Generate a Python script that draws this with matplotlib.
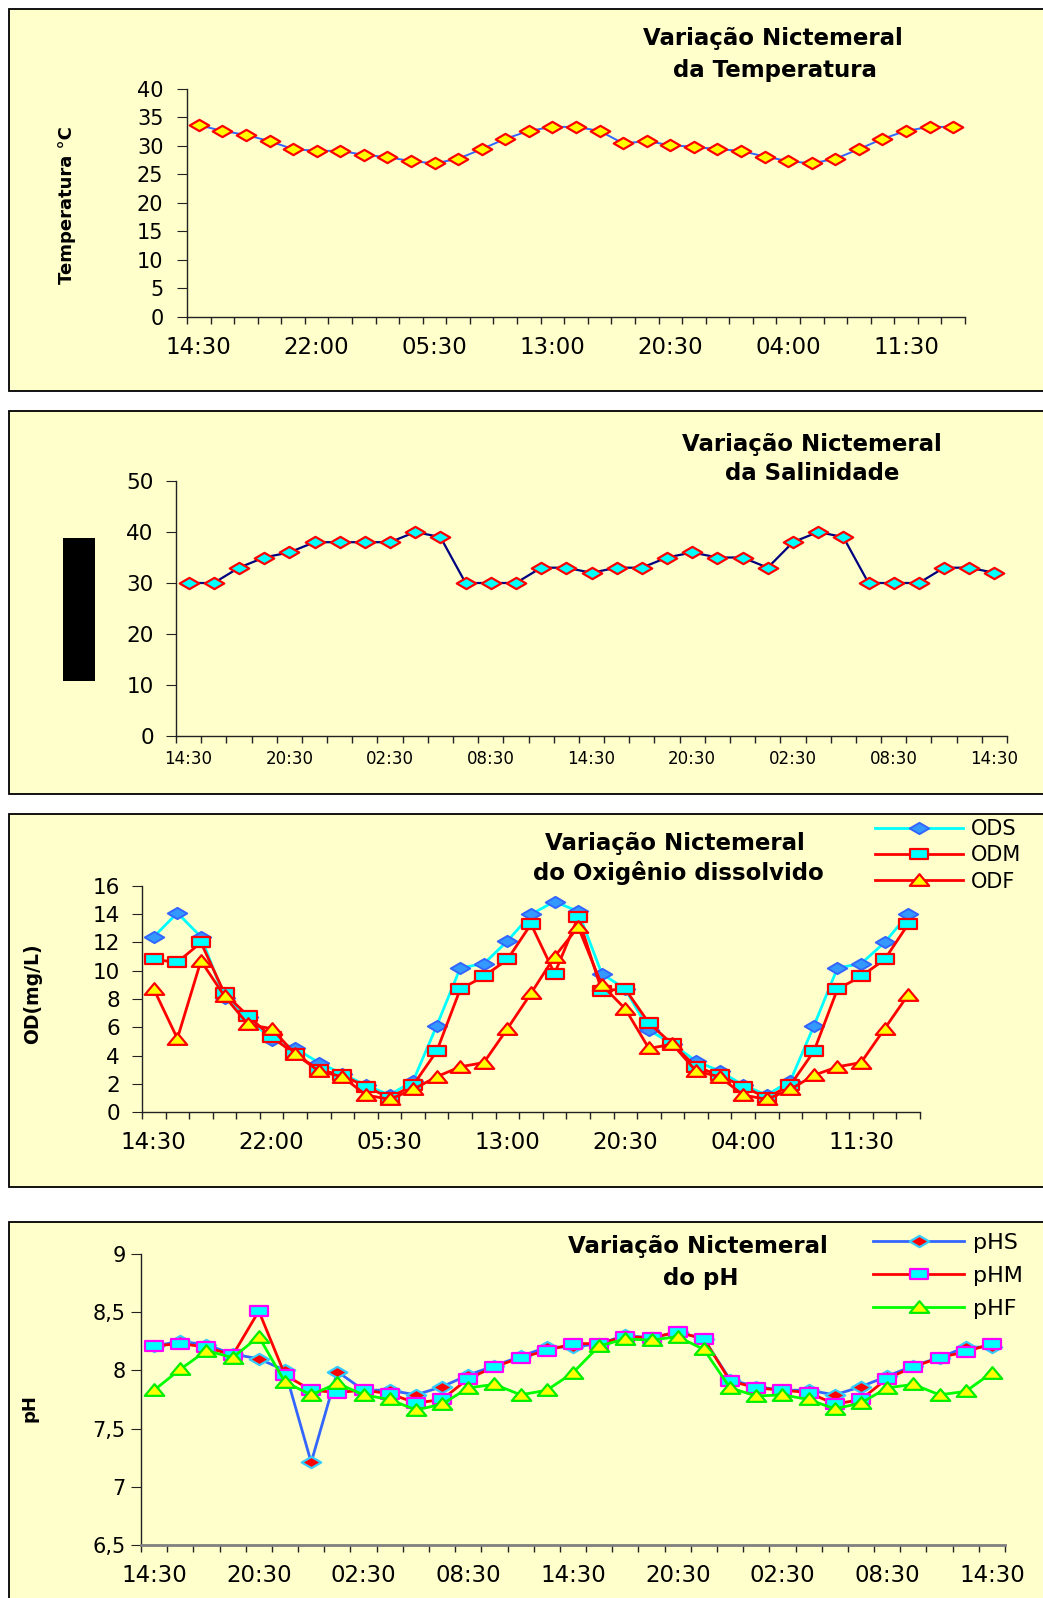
import matplotlib
matplotlib.use("Agg")
import matplotlib.pyplot as plt
from matplotlib.patches import Rectangle
from matplotlib.path import Path
import numpy as np

plt.rcParams['font.family'] = ['DejaVu Sans']

# ---------------- data ----------------
times = ["14:30", "16:00", "17:30", "19:00", "20:30", "22:00", "23:30", "01:00",
         "02:30", "04:00", "05:30", "07:00", "08:30", "10:00", "11:30", "13:00",
         "14:30", "16:00", "17:30", "19:00", "20:30", "22:00", "23:30", "01:00",
         "02:30", "04:00", "05:30", "07:00", "08:30", "10:00", "11:30", "13:00",
         "14:30"]

temperatura = [33.6, 32.6, 31.9, 30.8, 29.4, 29.1, 29.1, 28.4, 28.0, 27.3, 26.9,
               27.7, 29.4, 31.2, 32.6, 33.3, 33.3, 32.6, 30.4, 30.8, 30.1, 29.8,
               29.4, 29.1, 28.1, 27.3, 26.9, 27.7, 29.4, 31.2, 32.6, 33.3, 33.3]

salinidade = [30, 30, 33, 35, 36, 38, 38, 38, 38, 40, 39, 30, 30, 30, 33, 33, 32,
              33, 33, 35, 36, 35, 35, 33, 38, 40, 39, 30, 30, 30, 33, 33, 32]

ods = [12.4, 14.1, 12.4, 8.1, 6.7, 5.1, 4.5, 3.5, 2.7, 1.9, 1.2, 2.2, 6.1, 10.2,
       10.5, 12.1, 14.0, 14.9, 14.2, 9.8, 8.7, 5.8, 4.8, 3.6, 2.9, 1.9, 1.2, 2.2,
       6.1, 10.2, 10.5, 12.0, 14.0]
odm = [10.8, 10.6, 12.0, 8.4, 6.8, 5.3, 4.1, 3.0, 2.6, 1.8, 1.0, 1.9, 4.3, 8.7,
       9.6, 10.8, 13.3, 9.8, 13.8, 8.6, 8.7, 6.3, 4.8, 3.2, 2.6, 1.8, 1.0, 1.9,
       4.3, 8.7, 9.6, 10.8, 13.3]
odf = [8.7, 5.2, 10.7, 8.2, 6.2, 5.9, 4.1, 2.9, 2.5, 1.2, 0.9, 1.6, 2.5, 3.2,
       3.5, 5.9, 8.4, 11.0, 13.1, 9.0, 7.3, 4.5, 4.8, 2.9, 2.5, 1.2, 0.9, 1.6,
       2.6, 3.2, 3.5, 5.9, 8.3]

phs = [8.21, 8.25, 8.22, 8.14, 8.10, 8.00, 7.21, 7.99, 7.83, 7.83, 7.79, 7.86,
       7.96, 8.04, 8.12, 8.20, 8.20, 8.23, 8.30, 8.28, 8.33, 8.27, 7.92, 7.86,
       7.83, 7.83, 7.79, 7.86, 7.95, 8.04, 8.11, 8.20, 8.20]
phm = [8.21, 8.23, 8.20, 8.13, 8.51, 7.96, 7.83, 7.81, 7.83, 7.80, 7.72, 7.75,
       7.93, 8.03, 8.11, 8.17, 8.23, 8.23, 8.29, 8.28, 8.33, 8.27, 7.91, 7.85,
       7.83, 7.81, 7.71, 7.75, 7.93, 8.03, 8.11, 8.16, 8.23]
phf = [7.83, 8.01, 8.17, 8.11, 8.29, 7.90, 7.79, 7.89, 7.79, 7.75, 7.66, 7.71,
       7.85, 7.88, 7.79, 7.83, 7.98, 8.21, 8.27, 8.26, 8.29, 8.18, 7.85, 7.78,
       7.79, 7.75, 7.67, 7.72, 7.85, 7.88, 7.79, 7.82, 7.98]

ph_ticks = [6.5, 7, 7.5, 8, 8.5, 9]
ph_ticklabels = ["6,5", "7", "7,5", "8", "8,5", "9"]

# ---------------- figure ----------------
W, H = 1043, 1598
fig = plt.figure(figsize=(W / 100, H / 100), dpi=100)
fig.patch.set_facecolor('white')
BG = '#FFFFCC'


def fx(px):
    return px / W


def fy(py):
    return 1 - py / H


def frame(top, bottom):
    r = Rectangle((fx(9), fy(bottom)), fx(1100) - fx(9), fy(top) - fy(bottom),
                  transform=fig.transFigure, facecolor=BG, edgecolor='black',
                  lw=1.3, zorder=-5)
    fig.add_artist(r)


def make_ax(x0, x1, y0, y1):
    ax = fig.add_axes([fx(x0), fy(y1), fx(x1) - fx(x0), fy(y0) - fy(y1)])
    ax.patch.set_alpha(0)
    for s in ['top', 'right']:
        ax.spines[s].set_visible(False)
    for s in ['left', 'bottom']:
        ax.spines[s].set_color('#222222')
        ax.spines[s].set_linewidth(1.0)
    return ax


def cat_axis(ax, step, fs, pad):
    n = len(times)
    ax.set_xlim(-0.5, n - 0.5)
    idx = list(range(0, n, step))
    ax.set_xticks(idx)
    ax.set_xticklabels([times[i] for i in idx], fontsize=fs)
    ax.set_xticks(np.arange(-0.5, n, 1.0), minor=True)
    ax.tick_params(axis='x', which='major', length=0, pad=pad)
    ax.tick_params(axis='x', which='minor', length=5, width=1, direction='out',
                   color='#222222')


# wide marker shapes (reference is horizontally stretched)
DIAM = Path([(0, 0.58), (1, 0), (0, -0.58), (-1, 0), (0, 0.58)],
            [Path.MOVETO, Path.LINETO, Path.LINETO, Path.LINETO, Path.CLOSEPOLY])
SQR = Path([(-1, -0.6), (1, -0.6), (1, 0.6), (-1, 0.6), (-1, -0.6)],
           [Path.MOVETO, Path.LINETO, Path.LINETO, Path.LINETO, Path.CLOSEPOLY])
TRI = Path([(-1, -0.55), (1, -0.55), (0, 0.65), (-1, -0.55)],
           [Path.MOVETO, Path.LINETO, Path.LINETO, Path.CLOSEPOLY])

x = np.arange(len(times))

title_kw = dict(fontsize=16.5, fontweight='bold', ha='center', va='center')
XT = 16.5   # x tick label size
YT = 15     # y tick label size

# ---------------- panel 1: temperatura ----------------
frame(9, 391)
ax1 = make_ax(187, 965, 88.7, 316.7)
ax1.plot(x, temperatura, color='#3366FF', lw=1.4, marker=DIAM, ms=14,
         mfc='#FFFF00', mec='#FF0000', mew=1.6, clip_on=False)
ax1.set_ylim(0, 40)
ax1.set_yticks(range(0, 41, 5))
ax1.tick_params(axis='y', length=7, pad=10, labelsize=YT, color='#222222')
cat_axis(ax1, 5, XT, 14)
fig.text(fx(773), fy(39), "Variação Nictemeral", **title_kw)
fig.text(fx(775), fy(70), "da Temperatura", **title_kw)
fig.text(fx(67), fy(205), "Temperatura °C", rotation=90, fontsize=13,
         fontweight='bold', ha='center', va='center')

# ---------------- panel 2: salinidade ----------------
frame(411, 794)
ax2 = make_ax(176, 1007, 481, 736)
ax2.plot(x, salinidade, color='#000080', lw=1.6, marker=DIAM, ms=14,
         mfc='#00FFFF', mec='#FF0000', mew=1.6, clip_on=False)
ax2.set_ylim(0, 50)
ax2.set_yticks(range(0, 51, 10))
ax2.tick_params(axis='y', length=7, pad=9, labelsize=YT + 0.5, color='#222222')
cat_axis(ax2, 4, 12, 10)
fig.text(fx(812), fy(444), "Variação Nictemeral", **title_kw)
fig.text(fx(812), fy(474), "da Salinidade", **title_kw)
fig.add_artist(Rectangle((fx(63), fy(681)), fx(95) - fx(63), fy(538) - fy(681),
                         transform=fig.transFigure, facecolor='black',
                         edgecolor='none'))

# ---------------- panel 3: oxigenio dissolvido ----------------
frame(814, 1187)
ax3 = make_ax(142, 920, 886, 1112)
ax3.plot(x, ods, color='#00FFFF', lw=2.0, marker=DIAM, ms=14,
         mfc='#3399FF', mec='#3366FF', mew=1.4, label='ODS', clip_on=False)
ax3.plot(x, odm, color='#FF0000', lw=2.0, marker=SQR, ms=13,
         mfc='#00FFFF', mec='#FF0000', mew=1.6, label='ODM', clip_on=False)
ax3.plot(x, odf, color='#FF0000', lw=2.0, marker=TRI, ms=14,
         mfc='#FFFF00', mec='#FF0000', mew=1.6, label='ODF', clip_on=False)
ax3.set_ylim(0, 16)
ax3.set_yticks(range(0, 17, 2))
ax3.tick_params(axis='y', length=7, pad=9, labelsize=YT + 0.5, color='#222222')
cat_axis(ax3, 5, XT, 14)
fig.text(fx(675), fy(843), "Variação Nictemeral", **title_kw)
fig.text(fx(678), fy(873), "do Oxigênio dissolvido", **title_kw)
fig.text(fx(33), fy(994), "OD(mg/L)", rotation=90, fontsize=13.5,
         fontweight='bold', ha='center', va='center')
ax3.legend(loc='upper left', bbox_to_anchor=(fx(875), fy(819)),
           bbox_transform=fig.transFigure, frameon=False, fontsize=15,
           handlelength=4.2, handletextpad=0.4, labelspacing=0.3,
           borderpad=0, borderaxespad=0)

# ---------------- panel 4: pH ----------------
frame(1222, 1700)
ax4 = make_ax(141, 1005, 1254, 1545)
ax4.plot(x, phs, color='#3366FF', lw=2.0, marker=DIAM, ms=14,
         mfc='#FF0000', mec='#33CCFF', mew=1.6, label='pHS', clip_on=False)
ax4.plot(x, phm, color='#FF0000', lw=2.0, marker=SQR, ms=13,
         mfc='#00FFFF', mec='#FF00FF', mew=1.6, label='pHM', clip_on=False)
ax4.plot(x, phf, color='#00FF00', lw=2.0, marker=TRI, ms=14,
         mfc='#FFFF00', mec='#00EE00', mew=1.6, label='pHF', clip_on=False)
ax4.set_ylim(6.5, 9)
ax4.set_yticks(ph_ticks)
ax4.set_yticklabels(ph_ticklabels)
ax4.tick_params(axis='y', length=7, pad=4, labelsize=YT, color='#222222')
ax4.spines['bottom'].set_color('#808080')
ax4.spines['bottom'].set_linewidth(2)
cat_axis(ax4, 4, XT, 14)
fig.text(fx(698), fy(1247), "Variação Nictemeral", **title_kw)
fig.text(fx(701), fy(1278), "do pH", **title_kw)
fig.text(fx(30), fy(1408), "pH", rotation=90, fontsize=13,
         fontweight='bold', ha='center', va='center')
ax4.legend(loc='upper left', bbox_to_anchor=(fx(873), fy(1233)),
           bbox_transform=fig.transFigure, frameon=False, fontsize=16,
           handlelength=4.1, handletextpad=0.4, labelspacing=0.58,
           borderpad=0, borderaxespad=0)

fig.savefig("out.png", dpi=100, facecolor='white')
